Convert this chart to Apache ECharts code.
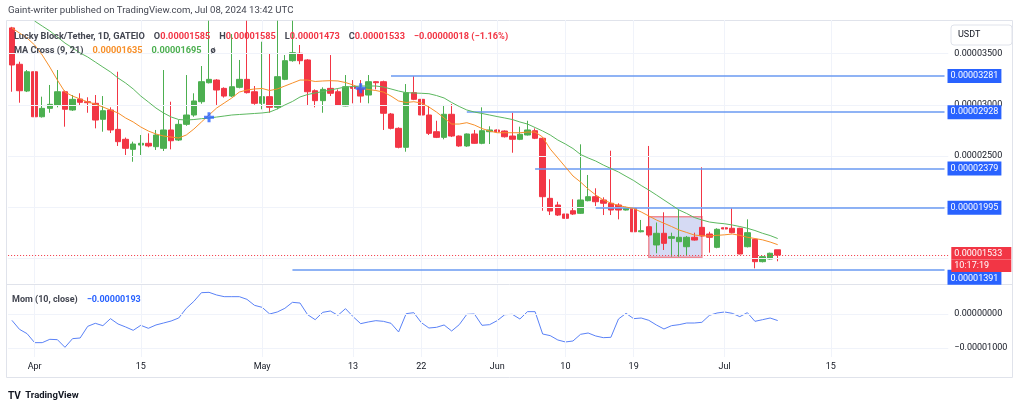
<!DOCTYPE html>
<html><head><meta charset="utf-8">
<script src="https://cdn.jsdelivr.net/npm/echarts@6/dist/echarts.min.js"></script>
<style>html,body{margin:0;padding:0;background:#fff}#c{width:1024px;height:406px}</style>
</head><body><div id="c"></div>
<script>
// prices are stored in units of 1e-8 USDT
const UNIT = 1e-8;
const categoryCount = 124; // daily categories starting 2024-03-29
const tickLabels = {'2024-04-01':'Apr','2024-04-15':'15','2024-05-01':'May','2024-05-13':'13','2024-05-22':'22','2024-06-01':'Jun','2024-06-10':'10','2024-06-19':'19','2024-07-01':'Jul','2024-07-15':'15'};
const priceTicks = [2500, 3000, 3500];
const priceGrid = [1500, 2000, 2500, 3000, 3500];
const momTicks = [0, -1000];

const opens = [3750,3395,3134,3322,2883,2965,2998,3127,2949,3056,
3030,3014,2858,2949,2760,2663,2565,2607,2624,2591,
2575,2754,2656,2809,2900,3030,3215,3241,3160,3085,
3170,3248,3127,3014,3079,2975,3248,3430,3502,3437,
3137,3040,3160,3127,2988,3176,3160,3095,3225,3225,
2910,2770,2585,3118,3053,2900,2737,2682,2907,2695,
2598,2715,2624,2737,2754,2744,2695,2663,2705,2747,
2673,2087,2022,1934,1966,1941,2064,2103,2071,2039,
2022,1973,1990,1761,1810,1632,1746,1697,1664,1615,
1707,1804,1739,1609,1800,1795,1795,1615,1687,1469,
1495,1585];
const highs = [3760,3420,3339,3330,3079,3193,3339,3140,3095,3112,
3073,3095,3085,2975,3322,2680,2640,2705,2721,2754,
3339,3030,2851,3290,3112,3378,3820,3250,3170,3690,
3437,3820,3183,3615,3502,3820,3485,3820,3583,3445,
3150,3170,3485,3150,3290,3241,3241,3290,3230,3235,
2920,2780,3202,3280,3063,2991,2844,2998,3007,2700,
2720,2754,2975,2790,2760,2750,2922,2786,2844,2770,
2680,2273,2054,2071,2078,2614,2315,2185,2097,2552,
2039,2005,1995,1876,2598,1851,1951,1752,1973,1720,
1752,2390,1761,1795,1805,1990,1800,1882,1692,1525,
1557,1585];
const lows = [3127,3020,3124,2809,2875,2922,2975,2786,2940,2998,
2922,2770,2737,2724,2598,2510,2444,2510,2585,2559,
2549,2565,2646,2795,2883,3010,3208,2998,3070,3075,
3160,3110,3000,2956,2922,2956,3240,3420,3395,2998,
2975,2922,3085,2990,2985,3014,3020,3014,3150,2754,
2760,2575,2542,3045,2851,2705,2675,2663,2685,2590,
2590,2620,2615,2617,2730,2680,2532,2655,2700,2665,
1966,1924,1915,1876,1925,1935,2058,2012,1924,1924,
1882,1968,1755,1755,1710,1551,1583,1518,1518,1527,
1675,1712,1557,1600,1783,1745,1540,1608,1404,1462,
1490,1473];
const closes = [3388,3137,3322,2883,2965,3004,3127,2956,3053,3024,
3020,2851,2942,2754,2640,2575,2617,2624,2598,2705,
2754,2649,2809,2900,3037,3225,3248,3144,3085,3176,
3248,3118,3014,3079,2975,3274,3430,3508,3430,3127,
3040,3150,3112,2998,3176,3160,3085,3225,3215,2917,
2770,2585,3118,3053,2900,2721,2682,2907,2695,2598,
2715,2624,2747,2754,2737,2688,2663,2712,2754,2673,
2103,1963,1924,1892,1934,2071,2103,2054,2039,1973,
1973,1990,1761,1771,1729,1746,1648,1713,1707,1707,
1680,1720,1707,1785,1788,1752,1544,1752,1469,1518,
1551,1533];
const ma9 = [3749,3700,3651,3583,3485,3368,3241,3124,3085,3056,
3027,3007,2978,2949,2920,2871,2832,2783,2744,2715,
2695,2685,2676,2705,2763,2832,2900,2968,3017,3066,
3124,3144,3154,3159,3139,3154,3183,3212,3241,3241,
3227,3232,3235,3232,3217,3193,3163,3149,3139,3124,
3085,3037,3022,3030,3017,2978,2929,2871,2812,2812,
2825,2802,2768,2744,2727,2727,2727,2727,2734,2734,
2685,2568,2481,2393,2305,2246,2178,2120,2071,2041,
2017,2002,1988,1954,1915,1876,1844,1812,1778,1754,
1729,1722,1720,1726,1731,1739,1726,1707,1695,1682,
1661,1635];
const ma21 = [null,null,null,3817,3768,3720,3661,3602,3554,3505,
3466,3417,3368,3320,3261,3212,3154,3085,3027,2968,
2920,2881,2856,2851,2856,2864,2871,2880,2890,2900,
2905,2910,2915,2920,2929,2959,2998,3032,3076,3100,
3115,3129,3144,3159,3173,3178,3183,3183,3183,3173,
3154,3134,3118,3115,3112,3108,3090,3066,3022,2983,
2949,2929,2915,2900,2885,2871,2856,2832,2812,2778,
2744,2705,2656,2617,2573,2515,2481,2451,2412,2378,
2344,2302,2261,2212,2168,2120,2071,2022,1973,1939,
1900,1876,1856,1846,1839,1827,1812,1795,1773,1746,
1724,1695];
const momentum = [-186,-451,-578,-843,-843,-745,-755,-980,-725,-706,
-363,-274,-343,-137,-294,-382,-480,-333,-421,-323,
-265,-206,-118,167,372,627,637,559,510,510,
510,431,255,196,0,59,167,343,323,-20,
-167,49,88,-39,157,-78,-284,-235,-196,-216,
-274,-529,10,39,-255,-412,-392,-323,-500,-314,
-10,0,-333,-314,-196,-20,-10,-147,69,69,
-588,-637,-764,-823,-794,-598,-559,-647,-696,-686,
-147,20,-137,-118,-186,-323,-441,-343,-314,-265,
-265,-245,-39,29,59,20,-78,39,-216,-167,
-118,-193];
const rayLevels = [3281, 2928, 2379, 1995, 1391];
const rayStarts = ['2024-05-18','2024-05-28','2024-06-06','2024-06-14','2024-05-05'];
const currentPrice = 1533;
const countdown = '10:17:19';
const zoneDates = ['2024-06-21','2024-06-28'];
const zonePrices = [1908, 1512];
const crossPoints = [['2024-04-24',2878],['2024-05-14',3160]];

const dates = [];
const d0 = Date.UTC(2024,2,29);
for (let i=0;i<categoryCount;i++){ dates.push(new Date(d0+i*86400000).toISOString().slice(0,10)); }
const f8 = v => (v*UNIT).toFixed(8).replace('-','\u2212');
const candleData = opens.map((o,i)=>[o, closes[i], lows[i], highs[i]]);
const last = opens.length-1;
const chg = closes[last]-closes[last-1];
const chgPct = (chg/closes[last-1]*100).toFixed(2).replace('-','\u2212');

const FONT = 'Roboto';
const TXT = '#434651';
const GRIDC = '#f0f3fa';
const UP = '#4caf50', DOWN = '#f23645', BLUE = '#2962ff';
const GL = 8.1, GW = 940.2;

const vLines = Object.keys(tickLabels).map(d=>({xAxis:d}));
const gridLineStyle = {color: GRIDC, width: 1, type: 'solid'};

const option = {
  animation: false,
  backgroundColor: '#fff',
  textStyle: {fontFamily: FONT},
  title: [
    {left: 8, top: 6, padding: 0, text: 'Gaint-writer published on TradingView.com, Jul 08, 2024 13:42 UTC',
     textStyle: {fontSize: 9.6, fontWeight: 'normal', color: TXT, fontFamily: FONT}},
    {left: 14, top: 28, padding: 0,
     text: '{t|Lucky Block/Tether, 1D, GATEIO}  {t|O}{r|'+f8(opens[last])+'}  {t|H}{r|'+f8(highs[last])+'}  {t|L}{r|'+f8(lows[last])+'}  {t|C}{r|'+f8(closes[last])+'}  {r|'+f8(chg)+' ('+chgPct+'%)}',
     textStyle: {rich: {t: {fontSize: 9.2, color: TXT, fontFamily: FONT}, r: {fontSize: 9.2, color: DOWN, fontFamily: FONT}}}},
    {left: 14, top: 42, padding: 0,
     text: '{t|MA Cross (9, 21)}  {o|'+f8(ma9[last])+'}  {g|'+f8(ma21[last])+'}  {t|\u00f8}',
     textStyle: {rich: {t: {fontSize: 9.2, color: TXT, fontFamily: FONT}, o: {fontSize: 9.2, color: '#f7902a', fontFamily: FONT}, g: {fontSize: 9.2, color: '#4caf50', fontFamily: FONT}}}},
    {left: 12, top: 291, padding: 0,
     text: '{t|Mom (10, close)}  {b|'+f8(momentum[last])+'}',
     textStyle: {rich: {t: {fontSize: 9, color: TXT, fontFamily: FONT}, b: {fontSize: 9, color: BLUE, fontFamily: FONT}}}},
    {left: 8, top: 387, padding: 0,
     text: '{l|TV} {t|TradingView}',
     textStyle: {rich: {l: {fontSize: 10, fontWeight: 'bold', color: '#131722', fontFamily: FONT}, t: {fontSize: 9.5, color: '#131722', fontFamily: FONT}}}}
  ],
  graphic: [
    {type: 'rect', shape: {x: 6.5, y: 20.5, width: 1006, height: 357}, style: {fill: 'none', stroke: '#e0e3eb', lineWidth: 1}, z: -1},
    {type: 'line', shape: {x1: 6.5, y1: 284.5, x2: 1012.5, y2: 284.5}, style: {stroke: '#e0e3eb', lineWidth: 1}},
    {type: 'rect', shape: {x: 951, y: 25, width: 61, height: 20, r: 3}, style: {fill: '#fff', stroke: '#e0e3eb', lineWidth: 1}},
    {type: 'text', x: 958, y: 35, style: {text: 'USDT', fontSize: 9, fill: '#131722', fontFamily: FONT, verticalAlign: 'middle'}}
  ],
  grid: [
    {left: GL, top: 20, width: GW, height: 263},
    {left: GL, top: 285, width: GW, height: 72}
  ],
  xAxis: [
    {type: 'category', gridIndex: 0, data: dates, boundaryGap: true, show: false},
    {type: 'category', gridIndex: 1, data: dates, boundaryGap: true,
     axisLine: {show: false}, axisTick: {show: false}, splitLine: {show: false},
     axisLabel: {interval: (i, v) => tickLabels[v] !== undefined, formatter: v => tickLabels[v] || '', fontSize: 9, color: '#131722', margin: 5, fontFamily: FONT}}
  ],
  yAxis: [
    {type: 'value', gridIndex: 0, position: 'right', min: 1261, max: 3827, scale: true,
     axisLine: {show: false}, axisTick: {show: false}, splitLine: {show: false},
     axisLabel: {customValues: priceTicks, formatter: v => f8(v), fontSize: 9, color: '#131722', margin: 6, fontFamily: FONT}},
    {type: 'value', gridIndex: 1, position: 'right', min: -1265, max: 853,
     axisLine: {show: false}, axisTick: {show: false}, splitLine: {show: false},
     axisLabel: {customValues: momTicks, formatter: v => f8(v), fontSize: 9, color: '#131722', margin: 6, fontFamily: FONT}}
  ],
  series: [
    {type: 'line', name: 'grid1', xAxisIndex: 0, yAxisIndex: 0, data: [], z: 0, silent: true,
     markLine: {silent: true, symbol: ['none','none'], label: {show: false}, lineStyle: gridLineStyle, emphasis: {disabled: true},
       data: vLines.concat(priceGrid.map(v=>({yAxis: v})))}},
    {type: 'candlestick', name: 'LBLOCK', xAxisIndex: 0, yAxisIndex: 0, data: candleData, barWidth: 6, z: 3,
     itemStyle: {color: UP, color0: DOWN, borderColor: UP, borderColor0: DOWN, borderWidth: 1}},
    {type: 'line', name: 'zone', xAxisIndex: 0, yAxisIndex: 0, data: [], z: 4, silent: true,
     markArea: {silent: true, itemStyle: {color: 'rgba(92,112,214,0.26)', borderColor: '#ef8a94', borderWidth: 1.5},
       data: [[{coord: [zoneDates[0], zonePrices[0]]}, {coord: [zoneDates[1], zonePrices[1]]}]]}},
    {type: 'line', name: 'MA9', xAxisIndex: 0, yAxisIndex: 0, data: ma9, showSymbol: false, z: 5,
     lineStyle: {color: '#f7902a', width: 1}, itemStyle: {color: '#f7902a'}},
    {type: 'line', name: 'MA21', xAxisIndex: 0, yAxisIndex: 0, data: ma21, showSymbol: false, z: 5,
     lineStyle: {color: '#5cb85f', width: 1}, itemStyle: {color: '#5cb85f'}},
    {type: 'line', name: 'rays', xAxisIndex: 0, yAxisIndex: 0, data: [], z: 6, silent: true,
     markLine: {silent: true, symbol: ['none','none'], emphasis: {disabled: true},
       lineStyle: {color: '#6a9af2', width: 1.6, type: 'solid'},
       label: {show: true, position: 'end', distance: 3, backgroundColor: BLUE, color: '#fff', fontSize: 9, fontFamily: FONT, padding: [2,3,2,3], lineHeight: 10},
       data: rayLevels.map((v,i)=>{
         const last4 = i === 4;
         return [{coord: [rayStarts[i], v]}, {coord: [dates[dates.length-1], v],
           label: {formatter: f8(v), verticalAlign: last4 ? 'top' : 'middle', padding: last4 ? [4,3,1,3] : [2,3,2,3]}}];
       })}},
    {type: 'line', name: 'current', xAxisIndex: 0, yAxisIndex: 0, data: [], z: 7, silent: true,
     markLine: {silent: true, symbol: ['none','none'], emphasis: {disabled: true},
       lineStyle: {color: DOWN, width: 1, type: [1,2]},
       label: {show: true, position: 'end', distance: 3, verticalAlign: 'middle',
         formatter: '{s|}\n{p|' + f8(currentPrice) + '}\n{t|' + countdown + '}',
         rich: {
           s: {height: 9, lineHeight: 9},
           p: {backgroundColor: DOWN, color: '#fff', fontSize: 9, fontFamily: FONT, width: 54, height: 12.5, lineHeight: 12.5, padding: [0,3,0,3]},
           t: {backgroundColor: DOWN, color: '#fff', fontSize: 9, fontFamily: FONT, width: 54, height: 12.5, lineHeight: 12.5, padding: [0,3,0,3]}
         }},
       data: [{yAxis: currentPrice}]}},
    {type: 'scatter', name: 'cross', xAxisIndex: 0, yAxisIndex: 0, data: crossPoints, z: 8, silent: true,
     symbol: 'path://M3.5,0h3v3.5h3.5v3h-3.5v3.5h-3v-3.5h-3.5v-3h3.5z', symbolSize: 10, itemStyle: {color: BLUE}},
    {type: 'line', name: 'grid2', xAxisIndex: 1, yAxisIndex: 1, data: [], z: 0, silent: true,
     markLine: {silent: true, symbol: ['none','none'], label: {show: false}, lineStyle: gridLineStyle, emphasis: {disabled: true},
       data: vLines.concat(momTicks.map(v=>({yAxis: v})))}},
    {type: 'line', name: 'Mom', xAxisIndex: 1, yAxisIndex: 1, data: momentum, showSymbol: false, z: 3,
     lineStyle: {color: '#5a82f7', width: 1}, itemStyle: {color: '#5a82f7'}}
  ]
};
const chart = echarts.init(document.getElementById('c'), null, {renderer: 'canvas'});
chart.setOption(option);
</script>
</body></html>
